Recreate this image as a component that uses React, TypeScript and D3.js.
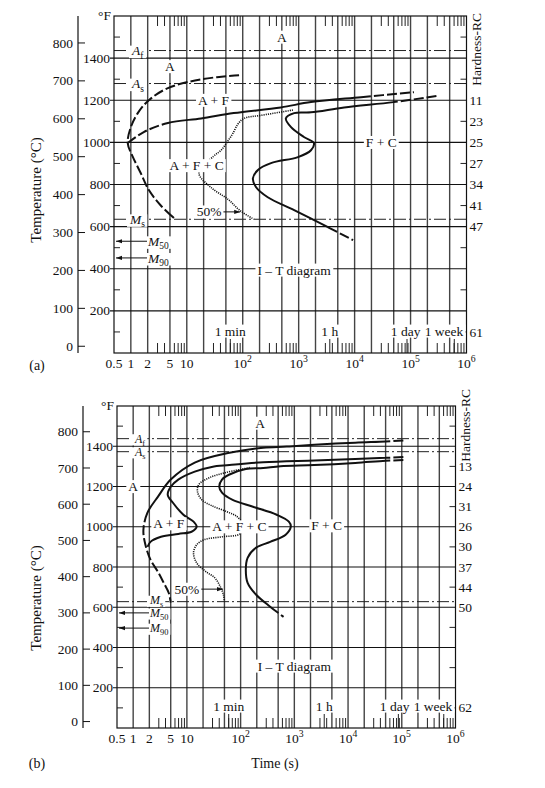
import React, { useEffect, useRef } from "react";
import * as d3 from "d3";

const FONT = "'Liberation Serif', 'Times New Roman', serif";

// axes
const celsiusTicks = [0, 100, 200, 300, 400, 500, 600, 700, 800];
const fahrenheitGrid = [200, 400, 600, 800, 1000, 1200, 1400];
const fahrenheitMinor = [100, 300, 500, 700, 900, 1100, 1300, 1500];
const timeLabels = [0.5, 1, 2, 5, 10, 1e2, 1e3, 1e4, 1e5, 1e6];
const timeGrid = [1, 2, 5, 10, 20, 50, 100, 200, 500, 1e3, 2e3, 5e3, 1e4, 2e4, 5e4, 1e5, 2e5, 5e5];
const minorSteps = [3, 4, 6, 7, 8, 9];
const decades = [1, 10, 100, 1e3, 1e4, 1e5];
const markerTimes = [60, 3600, 86400, 604800];
const markerLabels = ["1 min", "1 h", "1 day", "1 week"];

// hardness scale (°F position, value)
const hardnessTempsA = [1200, 1100, 1000, 900, 800, 700, 600, 100];
const hardnessA = ["11", "23", "25", "27", "34", "41", "47", "61"];
const hardnessTempsB = [1300, 1200, 1100, 1000, 900, 800, 700, 600, 100];
const hardnessB = ["13", "24", "31", "26", "30", "37", "44", "50", "62"];

// critical temperatures (°C): Af, As, Ms, M50, M90
const criticalA = [780, 693, 335, 277, 233];
const criticalB = [781, 745, 331, 300, 258];

// panel (a) curves: [time (s), temperature (°C)]
const ferriteStartA = [[86, 715], [18, 704], [4.6, 681], [2.1, 649], [1.33, 615], [1.0, 578], [0.88, 536], [1.09, 499], [1.5, 457], [2.1, 412], [3.4, 372], [5.9, 338]];
const pearliteStartA = [[0.88, 536], [1.7, 565], [4.6, 589], [18, 601], [69, 615], [480, 630], [1660, 644], [13000, 657], [115000, 670]];
const transformA = [[2.9e5, 660], [5.0e4, 644], [6500, 630], [1660, 617], [830, 615], [590, 601], [730, 578], [1240, 552], [1870, 536], [1660, 517], [970, 499], [320, 483], [187, 465], [152, 443], [172, 420], [280, 393], [830, 359], [3340, 314], [9400, 280]];
const halfA = [[790, 623], [213, 609], [105, 601], [82, 586], [67, 562], [54, 541], [41, 517], [30, 501], [16.5, 457], [27, 419], [54, 388], [93, 356], [159, 335]];

// panel (b) curves
const ferriteStartB = [[1.07e5, 776], [5e4, 773], [1.36e4, 770], [2350, 764], [720, 759], [263, 756], [62, 742], [14, 715], [5.0, 668], [2.9, 621], [1.85, 577], [1.55, 529], [1.69, 488], [2.1, 447], [2.9, 413], [3.7, 383], [4.6, 355], [5.0, 328]];
const ferriteEndB = [[1.07e5, 730], [5e4, 728], [1.36e4, 725], [2350, 721], [263, 716], [62, 708], [29, 703], [14, 690], [6.9, 668], [5.0, 648], [4.4, 626], [5.5, 604], [8.6, 571], [13.3, 552], [15.2, 538], [12.2, 524], [6.9, 518], [3.3, 510], [2.1, 496], [1.85, 482]];
const transformB = [[1.07e5, 722], [5e4, 720], [1.36e4, 714], [2350, 708], [550, 705], [263, 700], [125, 697], [62, 682], [45, 668], [40, 648], [45, 632], [71, 612], [170, 593], [470, 571], [790, 552], [860, 538], [690, 516], [355, 496], [195, 480], [135, 452], [125, 419], [135, 383], [195, 350], [355, 317], [630, 289]];
const halfB = [[148, 701], [52, 687], [26, 673], [16.6, 654], [15.8, 634], [19, 612], [29, 596], [56, 579], [87, 565], [110, 543], [96, 518], [45, 510], [21, 502], [15.2, 488], [13.3, 466], [15.2, 438], [23, 413], [33, 397], [42, 372], [48, 350], [50, 331]];

// region labels: text, time (s), temperature (°F)
const regionNamesA = ["A", "A + F", "A + F + C", "A", "F + C", "I – T diagram"];
const regionTimesA = [5, 30, 15, 500, 3e4, 830];
const regionTempsA = [1360, 1200, 890, 1500, 1000, 394];
const regionNamesB = ["A", "A", "A + F", "A + F + C", "F + C", "I – T diagram"];
const regionTimesB = [230, 1, 4.6, 95, 4000, 1000];
const regionTempsB = [1515, 1200, 1015, 1000, 1005, 308];

// 50% label: label time, temperature (°F), arrow tip time
const halfLabelA = [25, 670, 90];
const halfLabelB = [10, 690, 47];

const toF = (c: number) => c * 1.8 + 32;

const panels = [
  {
    left: 114, right: 466.5, top: 16, bottom: 353, axisX: 78, tag: "(a)", tagY: 365,
    msDx: 16, mDx: 34, hardX: 477, hardTop: 13, titleY: 190, mSize: 13.5, msLift: 0,
    curves: [
      { data: ferriteStartA, dash: [[0, 11]] },
      { data: pearliteStartA, dash: [[0, 2], [7, 8]] },
      { data: transformA, dash: [[0, 1], [17, 18]] },
      { data: halfA, dotted: true },
    ],
    critical: criticalA, hardTemps: hardnessTempsA, hard: hardnessA,
    names: regionNamesA, times: regionTimesA, temps: regionTempsA, half: halfLabelA,
  },
  {
    left: 117, right: 455.5, top: 406, bottom: 728, axisX: 83, tag: "(b)", tagY: 763,
    msDx: 33, mDx: 33, hardX: 466, hardTop: 389, titleY: 598, mSize: 12, msLift: 1.5,
    curves: [
      { data: ferriteStartB, dash: [[0, 1], [10, 17]] },
      { data: ferriteEndB, dash: [[0, 1]] },
      { data: transformB, dash: [[0, 1], [23, 24]] },
      { data: halfB, dotted: true },
    ],
    critical: criticalB, hardTemps: hardnessTempsB, hard: hardnessB,
    names: regionNamesB, times: regionTimesB, temps: regionTempsB, half: halfLabelB,
  },
];

type Part = [string, string?];

function label(parent: any, x: number, yc: number, parts: Part[], anchor = "middle", size = 13.5, bg = true, tight = false) {
  const grp = parent.append("g");
  const text = grp.append("text")
    .attr("x", x).attr("y", yc + size * 0.34)
    .attr("text-anchor", anchor).attr("font-size", size);
  let shift = 0;
  parts.forEach(([s, k]) => {
    const sp = text.append("tspan").text(s);
    let target = 0;
    if (k === "sub") { sp.attr("font-size", size * 0.7); target = size * 0.26; }
    if (k === "sup") { sp.attr("font-size", size * 0.72); target = -size * 0.42; }
    if (k === "i") sp.attr("font-style", "italic");
    if (target !== shift) { sp.attr("dy", target - shift); shift = target; }
  });
  if (bg) {
    const b = text.node().getBBox();
    const pad = tight ? 2.5 : 1;
    grp.insert("rect", "text")
      .attr("x", b.x - 2).attr("y", b.y + pad).attr("width", b.width + 4).attr("height", b.height - 2 * pad)
      .attr("fill", "white");
  }
  return text;
}

function dashArray(px: number[][], ranges: number[][], L: number, d = 10, g = 3) {
  const cum = [0];
  for (let i = 1; i < px.length; i++) cum.push(cum[i - 1] + Math.hypot(px[i][0] - px[i - 1][0], px[i][1] - px[i - 1][1]));
  const total = cum[cum.length - 1];
  const arr: number[] = [];
  let pos = 0;
  ranges.forEach(([i, j]) => {
    const s = (cum[i] / total) * L, e = (cum[j] / total) * L;
    if (s > pos) arr.push(s - pos, 0);
    let p = Math.max(s, pos);
    while (p + d + g <= e) { arr.push(d, g); p += d + g; }
    if (e > p) arr.push(e - p, 0);
    pos = e;
  });
  if (L > pos) arr.push(L - pos, 0);
  return arr.map((v) => v.toFixed(2)).join(",");
}

function drawPanel(svg: any, p: any, last: boolean) {
  const x = d3.scaleLog().domain([0.5, 1e6]).range([p.left, p.right]);
  const yF = d3.scaleLinear().domain([0, 1600]).range([p.bottom, p.top]);
  const yC = (c: number) => yF(toF(c));
  const g = svg.append("g").attr("font-family", FONT).attr("fill", "#111");

  // vertical grid
  g.selectAll(".vg").data(timeGrid).enter().append("line")
    .attr("x1", (d: number) => x(d)).attr("x2", (d: number) => x(d))
    .attr("y1", p.top).attr("y2", p.bottom)
    .attr("stroke", "#444").attr("stroke-width", 1.4);

  // horizontal grid (°F)
  g.selectAll(".hg").data(fahrenheitGrid).enter().append("line")
    .attr("x1", p.left - 4).attr("x2", p.right)
    .attr("y1", (d: number) => yF(d)).attr("y2", (d: number) => yF(d))
    .attr("stroke", "#111").attr("stroke-width", 1.1);

  // minor time ticks, top and bottom
  const minors: number[] = [];
  decades.forEach((dd) => minorSteps.forEach((m) => minors.push(dd * m)));
  minors.forEach((t) => {
    g.append("line").attr("x1", x(t)).attr("x2", x(t)).attr("y1", p.top).attr("y2", p.top + 10)
      .attr("stroke", "#222").attr("stroke-width", 1);
    g.append("line").attr("x1", x(t)).attr("x2", x(t)).attr("y1", p.bottom).attr("y2", p.bottom - 10)
      .attr("stroke", "#222").attr("stroke-width", 1);
  });
  markerTimes.forEach((t) => {
    g.append("line").attr("x1", x(t)).attr("x2", x(t)).attr("y1", p.bottom).attr("y2", p.bottom - 14)
      .attr("stroke", "#222").attr("stroke-width", 1);
  });

  // minor °F ticks at left and right frame
  fahrenheitMinor.forEach((f) => {
    g.append("line").attr("x1", p.left).attr("x2", p.left + 6).attr("y1", yF(f)).attr("y2", yF(f)).attr("stroke", "#222");
    g.append("line").attr("x1", p.right).attr("x2", p.right - 6).attr("y1", yF(f)).attr("y2", yF(f)).attr("stroke", "#222");
  });

  // critical temperature lines Af, As, Ms
  p.critical.slice(0, 3).forEach((c: number) => {
    g.append("line").attr("x1", p.left).attr("x2", p.right).attr("y1", yC(c)).attr("y2", yC(c))
      .attr("stroke", "#222").attr("stroke-width", 1).attr("stroke-dasharray", "12,3,2,3");
  });

  // curves
  const line = d3.line<number[]>().x((d) => x(d[0])).y((d) => yC(d[1])).curve(d3.curveCatmullRom.alpha(0.5));
  p.curves.forEach((c: any) => {
    const path = g.append("path").attr("d", line(c.data)).attr("fill", "none").attr("stroke", "#111");
    if (c.dotted) {
      path.attr("stroke-width", 1.6).attr("stroke-dasharray", "1.1,1.1");
    } else {
      path.attr("stroke-width", 2).attr("stroke-linecap", "butt");
      const L = path.node().getTotalLength();
      const px = c.data.map((d: number[]) => [x(d[0]), yC(d[1])]);
      path.attr("stroke-dasharray", dashArray(px, c.dash, L));
    }
  });

  // frame
  g.append("rect").attr("x", p.left).attr("y", p.top).attr("width", p.right - p.left).attr("height", p.bottom - p.top)
    .attr("fill", "none").attr("stroke", "#111").attr("stroke-width", 1.2);

  // critical labels (texts lifted above all backgrounds)
  const crit: any[] = [];
  crit.push(label(g, p.left + 18, yC(p.critical[0]), [["A", "i"], ["f", "sub"]], "start", p.mSize, true, true));
  crit.push(label(g, p.left + 18, yC(p.critical[1]), [["A", "i"], ["s", "sub"]], "start", p.mSize, true, true));
  crit.push(label(g, p.left + p.msDx, yC(p.critical[2]) - p.msLift, [["M", "i"], ["s", "sub"]], "start", p.mSize, true, true));
  [[3, "50"], [4, "90"]].forEach(([i, s]: any) => {
    crit.push(label(g, p.left + p.mDx, yC(p.critical[i]), [["M", "i"], [s, "sub"]], "start", p.mSize, true, true));
    g.append("line").attr("x1", p.left + p.mDx - 1).attr("x2", p.left + 2)
      .attr("y1", yC(p.critical[i])).attr("y2", yC(p.critical[i]))
      .attr("stroke", "#111").attr("stroke-width", 1).attr("marker-end", "url(#arr)");
  });
  crit.forEach((t) => g.node().appendChild(t.node()));

  // region labels
  p.names.forEach((n: string, i: number) => label(g, x(p.times[i]), yF(p.temps[i]), [[n]]));

  // 50% label with arrow
  const ht = label(g, x(p.half[0]), yF(p.half[1]), [["50%"]]);
  const hb = ht.node().getBBox();
  g.append("line").attr("x1", hb.x + hb.width + 2).attr("x2", x(p.half[2])).attr("y1", yF(p.half[1])).attr("y2", yF(p.half[1]))
    .attr("stroke", "#111").attr("stroke-width", 1).attr("marker-end", "url(#arr)");

  // time marker labels
  const mk = markerLabels.map((m, i) => label(g, x(markerTimes[i]), p.bottom - 22, [[m]]));
  let limit = p.right - 3;
  for (let i = mk.length - 1; i >= 0; i--) {
    const b = mk[i].node().getBBox();
    const over = b.x + b.width - limit;
    if (over > 0) {
      const grp = d3.select(mk[i].node().parentNode);
      grp.attr("transform", `translate(${-over},0)`);
      limit = b.x - over - 4;
    } else limit = b.x - 4;
  }

  // °F axis labels
  fahrenheitGrid.forEach((f) => label(g, p.left - 4, yF(f), [[String(f)]], "end", 13.5, false));
  label(g, p.left - 3, yF(1600) - 1, [["°F"]], "end", 13.5, false);

  // °C axis
  g.append("line").attr("x1", p.axisX).attr("x2", p.axisX).attr("y1", p.top).attr("y2", p.bottom).attr("stroke", "#111").attr("stroke-width", 1.2);
  celsiusTicks.forEach((c) => {
    g.append("line").attr("x1", p.axisX).attr("x2", p.axisX + 7).attr("y1", yC(c)).attr("y2", yC(c)).attr("stroke", "#111");
    label(g, p.axisX - 5, yC(c), [[String(c)]], "end", 13.5, false);
  });
  g.append("text").attr("transform", `translate(41,${p.titleY}) rotate(-90)`).attr("text-anchor", "middle")
    .attr("font-size", 15).text("Temperature (°C)");

  // hardness scale
  p.hard.forEach((h: string, i: number) => label(g, p.right + 3, yF(p.hardTemps[i]), [[h]], "start", 13.5, false));
  g.append("text").attr("transform", `translate(${p.hardX + 4},${p.hardTop}) rotate(-90)`).attr("text-anchor", "end")
    .attr("font-size", 13.5).text("Hardness-RC");

  // time axis labels
  timeLabels.forEach((t) => {
    const parts: Part[] = t >= 100 ? [["10"], [String(Math.round(Math.log10(t))), "sup"]] : [[String(t)]];
    label(g, x(t), p.bottom + 10, parts, "middle", 13.5, false);
  });

  label(g, 37, p.tagY, [[p.tag]], "middle", 14, false);
  if (last) label(g, 275, 763, [["Time (s)"]], "middle", 14, false);
}

export default function App() {
  const ref = useRef<SVGSVGElement>(null);
  useEffect(() => {
    const svg = d3.select(ref.current);
    svg.selectAll("*").remove();
    svg.append("defs").append("marker").attr("id", "arr").attr("viewBox", "0 0 10 10")
      .attr("refX", 10).attr("refY", 5).attr("markerWidth", 7).attr("markerHeight", 6)
      .attr("orient", "auto").append("path").attr("d", "M0,1.5L10,5L0,8.5Z").attr("fill", "#111");
    panels.forEach((p, i) => drawPanel(svg, p, i === panels.length - 1));
  }, []);
  return (
    <svg ref={ref} width={545} height={788}
      style={{ position: "absolute", left: 0, top: 0, background: "white" }} />
  );
}
